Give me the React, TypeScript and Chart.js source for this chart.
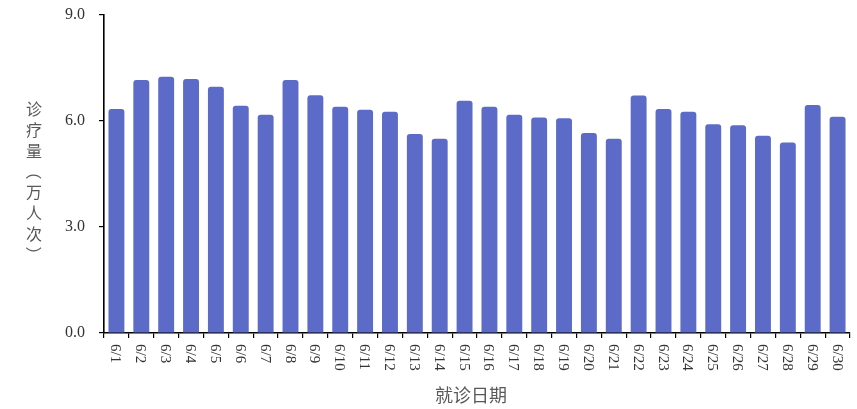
import React, { useEffect, useRef } from "react";
import { Chart, registerables } from "chart.js";

Chart.register(...registerables);

const categories = [
  "6/1", "6/2", "6/3", "6/4", "6/5", "6/6", "6/7", "6/8", "6/9", "6/10",
  "6/11", "6/12", "6/13", "6/14", "6/15", "6/16", "6/17", "6/18", "6/19", "6/20",
  "6/21", "6/22", "6/23", "6/24", "6/25", "6/26", "6/27", "6/28", "6/29", "6/30",
];
const visits = [
  6.34, 7.16, 7.25, 7.19, 6.97, 6.43, 6.18, 7.16, 6.73, 6.40,
  6.32, 6.26, 5.63, 5.50, 6.57, 6.40, 6.18, 6.10, 6.08, 5.66,
  5.50, 6.72, 6.34, 6.26, 5.91, 5.88, 5.58, 5.39, 6.45, 6.12,
];
const yTicks = [0, 3, 6, 9];
const xTitle = "就诊日期";
const yTitle = "诊疗量（万人次）";

const BAR_COLOR = "#5C6BC7";
const TEXT_COLOR = "#333333";
const TITLE_COLOR = "#595959";
const SERIF = "'Liberation Serif', 'Times New Roman', serif";
const CJK = "'Noto Sans CJK SC', sans-serif";

const labelsPlugin = {
  id: "customLabels",
  afterDraw(chart: any) {
    const ctx = chart.ctx;
    const xs = chart.scales.x;
    const area = chart.chartArea;
    ctx.save();
    // rotated x tick labels (reading top to bottom)
    ctx.fillStyle = TEXT_COLOR;
    ctx.font = `15px ${SERIF}`;
    ctx.textAlign = "left";
    ctx.textBaseline = "middle";
    categories.forEach((c, i) => {
      const x = xs.getPixelForValue(i) - 1;
      const y = area.bottom + 11;
      ctx.save();
      ctx.translate(x, y);
      ctx.rotate(Math.PI / 2);
      ctx.fillText(c, 0, 0);
      ctx.restore();
    });
    // x title
    ctx.fillStyle = TITLE_COLOR;
    ctx.font = `18px ${CJK}`;
    ctx.textAlign = "center";
    ctx.textBaseline = "middle";
    ctx.fillText(xTitle, (area.left + area.right) / 2 - 6, 395);
    // y title, vertical with upright characters
    ctx.font = `16px ${CJK}`;
    const chars = Array.from(yTitle);
    const pitch = 20.8;
    const startY = 109;
    chars.forEach((ch, i) => {
      const cy = startY + i * pitch;
      const cx = 34;
      if (ch === "（" || ch === "）") {
        ctx.save();
        ctx.translate(cx, cy);
        ctx.rotate(Math.PI / 2);
        ctx.fillText(ch, 0, 0);
        ctx.restore();
      } else {
        ctx.fillText(ch, cx, cy);
      }
    });
    ctx.restore();
  },
};

export default function App() {
  const ref = useRef<HTMLCanvasElement>(null);
  useEffect(() => {
    if (!ref.current) return;
    const chart = new Chart(ref.current, {
      type: "bar",
      data: {
        labels: categories,
        datasets: [
          {
            data: visits,
            backgroundColor: BAR_COLOR,
            borderRadius: { topLeft: 3, topRight: 3, bottomLeft: 0, bottomRight: 0 },
            borderSkipped: "start",
            barPercentage: 0.64,
            categoryPercentage: 1,
          },
        ],
      },
      options: {
        animation: false,
        responsive: false,
        maintainAspectRatio: false,
        layout: { padding: { top: 15, right: 7, left: 0, bottom: 0 } },
        plugins: { legend: { display: false }, tooltip: { enabled: false } },
        scales: {
          x: {
            type: "category",
            offset: true,
            grid: {
              display: true,
              drawOnChartArea: false,
              drawTicks: true,
              tickLength: 5,
              color: "#000",
              lineWidth: 1.2,
              offset: true,
            },
            border: { display: true, color: "#000", width: 1.6 },
            ticks: { display: false },
            afterFit: (s: any) => {
              s.height = 76;
              s.paddingLeft = 0;
              s.paddingRight = 0;
            },
          },
          y: {
            min: 0,
            max: 9,
            afterBuildTicks: (s: any) => {
              s.ticks = yTicks.map((v) => ({ value: v }));
            },
            grid: {
              display: true,
              drawOnChartArea: false,
              drawTicks: true,
              tickLength: 5,
              color: "#000",
              lineWidth: 1.2,
            },
            border: { display: true, color: "#000", width: 1.6 },
            ticks: {
              padding: 14,
              color: TEXT_COLOR,
              font: { family: SERIF, size: 16 },
              callback: (v: any) => Number(v).toFixed(1),
            },
            afterFit: (s: any) => {
              s.width = 104;
              s.paddingTop = 0;
              s.paddingBottom = 0;
            },
          },
        },
      },
      plugins: [labelsPlugin],
    });
    return () => chart.destroy();
  }, []);
  return (
    <div style={{ position: "fixed", left: 0, top: 0, width: 857, height: 409, background: "#fff" }}>
      <canvas ref={ref} width={857} height={409} style={{ width: 857, height: 409 }} />
    </div>
  );
}
